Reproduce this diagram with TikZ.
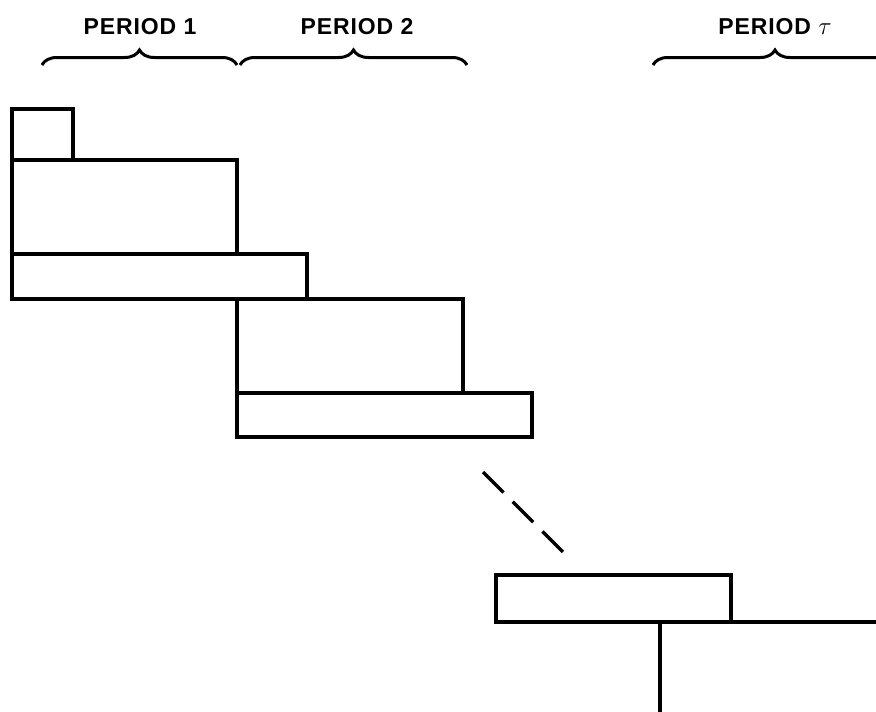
\documentclass[tikz,border=0pt]{standalone}
\usepackage{fontspec}
\newfontfamily\lblfont[LetterSpace=4]{Liberation Sans}
\usetikzlibrary{decorations.pathreplacing}
\begin{document}
\begin{tikzpicture}[x=1pt,y=-1pt,
  blk/.style={draw, line width=3.2pt, inner sep=0pt, outer sep=0pt, anchor=north west},
  lbl/.style={font=\lblfont\bfseries\fontsize{23}{26}\selectfont, inner sep=0pt},
  brc/.style={line width=3pt, decorate, decoration={brace, amplitude=15pt}},
  ln/.style={line width=3.2pt}]
\useasboundingbox (0,0) rectangle (876,712);
\clip (0,0) rectangle (876,712);
% labels
\node[lbl] (l1) at (140,27) {PERIOD 1};
\node[lbl] (l2) at (357,27) {PERIOD 2};
\node[lbl] (l3) at (775,27) {PERIOD $\tau$};
% braces
\coordinate (b1a) at (42,65); \coordinate (b1b) at (237,65);
\coordinate (b2a) at (240,65); \coordinate (b2b) at (467,65);
\coordinate (b3a) at (653,65); \coordinate (b3b) at (897,65);
\draw[brc] (b1a) -- (b1b);
\draw[brc] (b2a) -- (b2b);
\draw[brc] (b3a) -- (b3b);
% boxes
\node[blk, minimum width=61pt, minimum height=51pt] (s1) at (12,109) {};
\node[blk, minimum width=225pt, minimum height=94pt] (p1) at (12,160) {};
\node[blk, minimum width=295pt, minimum height=45pt] (w1) at (12,254) {};
\node[blk, minimum width=226pt, minimum height=94pt] (p2) at (237,299) {};
\node[blk, minimum width=295pt, minimum height=44pt] (w2) at (237,393) {};
\node[blk, minimum width=235pt, minimum height=47pt] (wt) at (496,575) {};
% connectors
\coordinate (d1) at (483,472);
\coordinate (d2) at (563,552);
\draw[ln, dash pattern=on 29pt off 13pt] (d1) -- (d2);
\coordinate (e1) at (876,622);
\draw[ln] (wt.south east) -- (e1);
\coordinate (v1) at (660,622);
\coordinate (v2) at (660,712);
\draw[ln] (v1) -- (v2);
\end{tikzpicture}
\end{document}
